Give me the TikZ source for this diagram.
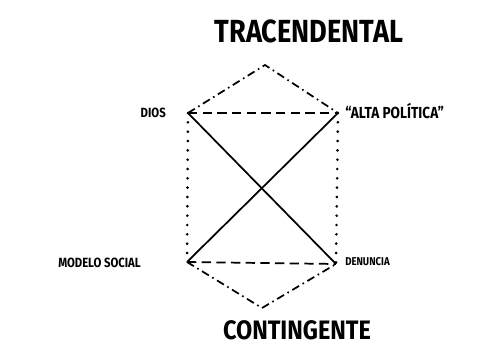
\documentclass[tikz,border=0pt]{standalone}
\usepackage{fontspec}
\usepackage{graphicx}
\setmainfont{Fira Sans}
\usetikzlibrary{calc}

\begin{document}
\begin{tikzpicture}[x=0.75pt,y=-0.75pt,
  edge/.style={draw=black,line width=1.3pt},
  dashdot/.style={edge,dash pattern=on 6pt off 3pt on 1.2pt off 3pt},
  dashline/.style={edge,dash pattern=on 7pt off 4pt},
  dotline/.style={edge,line width=2.2pt,line cap=round,dash pattern=on 0pt off 7pt},
  pole/.style={font=\bfseries\fontsize{24}{24}\selectfont,inner sep=0pt},
  tag/.style={font=\bfseries\fontsize{10}{10}\selectfont,inner sep=0pt}]
\useasboundingbox (0,0) rectangle (497,347);
% corners of the square and the two apexes
\coordinate (dios) at (188,113);
\coordinate (alta) at (338,113);
\coordinate (modelo) at (187,262);
\coordinate (denuncia) at (336,264);
\coordinate (top) at (265,65);
\coordinate (bot) at (262,308);
\draw[dashdot] (dios) -- (top) -- (alta);
\draw[dashdot] (modelo) -- (bot) -- (denuncia);
\draw[dashline] (dios) -- (alta);
\draw[dashline] (modelo) -- (denuncia);
\draw[dotline] (dios) -- (modelo);
\draw[dotline] (alta) -- (denuncia);
\draw[edge] (dios) -- (denuncia);
\draw[edge] (alta) -- (modelo);
% labels
\node[pole] (tracen) at (309,31) {\scalebox{0.85}[1]{TRACENDENTAL}};
\node[pole,font=\bfseries\fontsize{20}{20}\selectfont] (conting) at (297,330) {\scalebox{0.88}[1]{CONTINGENTE}};
\node[tag,anchor=east] (diosl) at (166,113) {\scalebox{0.85}[1]{DIOS}};
\node[tag,anchor=west,font=\bfseries\fontsize{12}{12}\selectfont] (altal) at (345,111) {\scalebox{0.85}[1]{“ALTA POLÍTICA”}};
\node[tag,anchor=east] (modelol) at (141,263) {\scalebox{0.85}[1]{MODELO SOCIAL}};
\node[tag,anchor=west,font=\bfseries\fontsize{8.5}{8.5}\selectfont] (denl) at (345,262) {\scalebox{0.85}[1]{DENUNCIA}};
\end{tikzpicture}
\end{document}
